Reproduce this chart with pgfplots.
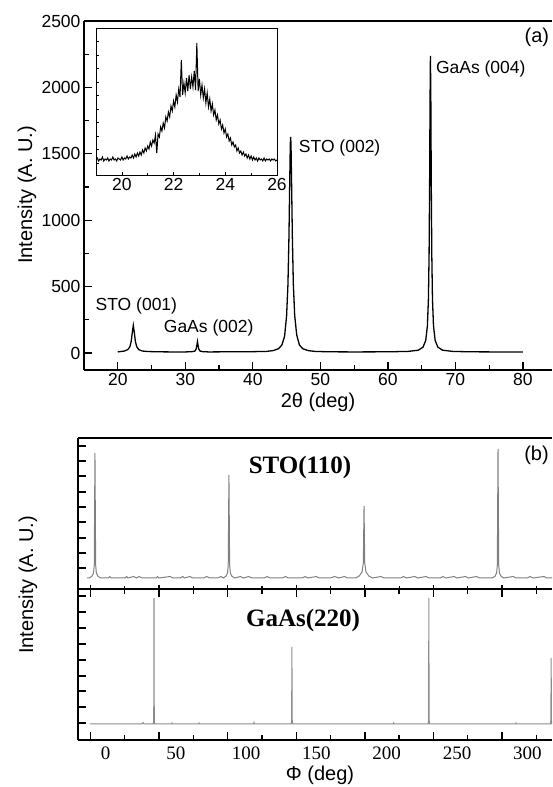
\documentclass[border=0pt]{standalone}
\usepackage{fontspec}
\setmainfont{Liberation Sans}
\newfontfamily\serifb{Liberation Serif}
\usepackage{pgfplots}
\pgfplotsset{compat=1.18}
\begin{document}
\begin{tikzpicture}[x=1pt,y=1pt]
\useasboundingbox (0,0) rectangle (552,787);

% ---------- panel (a): theta-2theta scan ----------
\begin{axis}[
    at={(84pt,417pt)}, anchor=south west,
    scale only axis, width=468pt, height=349pt,
    xmin=15, xmax=84.3, ymin=-128, ymax=2500,
    axis x line*=box, axis y line*=left,
    axis line style={line width=1.6pt},
    tick align=inside, major tick length=8pt, minor tick length=4.5pt,
    tick style={line width=1.2pt, black},
    xtick={20,30,...,80}, minor x tick num=1,
    ytick={0,500,...,2500}, minor y tick num=1,
    xtick pos=left, ytick pos=left,
    tick label style={font=\fontsize{17.5}{18}\selectfont},
    /pgf/number format/assume math mode=true,
    /pgf/number format/1000 sep={},
    xlabel={2θ (deg)},
    label style={font=\fontsize{20}{22}\selectfont},
]
\addplot[black, line width=1.3pt] coordinates {
(20,8)(21,15)(21.5,26)(21.8,48)(22.0,90)(22.15,155)(22.3,208)(22.45,155)(22.6,90)(22.8,48)(23.1,26)(23.6,15)(24.5,11)(26,9)(28,8)
(30,8)(31,10)(31.4,14)(31.6,29)(31.7,54)(31.8,86)(31.9,54)(32.0,29)(32.2,14)(32.6,10)(33.5,8)
(36,9)(40,10)(42,12)(43,18)(43.8,32)(44.3,60)(44.7,125)(45.0,281)(45.2,516)(45.35,880)(45.45,1246)(45.55,1575)(45.6,1628)
(45.65,1575)(45.75,1246)(45.85,880)(46.0,516)(46.2,281)(46.5,135)(46.9,60)(47.4,32)(48.2,18)(49.2,12)(51.2,9)(55,8)
(60,9)(63,12)(64.5,21)(65.2,44)(65.6,94)(65.85,205)(66.0,407)(66.1,741)(66.18,1293)(66.24,1892)(66.3,2238)
(66.36,1892)(66.42,1293)(66.5,741)(66.6,407)(66.75,205)(67.0,94)(67.4,44)(68.1,21)(69.6,12)(72,9)(76,8)(80,7)
};
\node[anchor=west, inner sep=0, font=\fontsize{17.5}{18}\selectfont] at (axis cs:16.7,354) {STO (001)};
\node[anchor=west, inner sep=0, font=\fontsize{17.5}{18}\selectfont] at (axis cs:26.8,188) {GaAs (002)};
\node[anchor=west, inner sep=0, font=\fontsize{17.5}{18}\selectfont] at (axis cs:46.8,1544) {STO (002)};
\node[anchor=west, inner sep=0, font=\fontsize{17.5}{18}\selectfont] at (axis cs:67.1,2139) {GaAs (004)};
\node[anchor=east, inner sep=0, font=\fontsize{20}{22}\selectfont] at (axis cs:83.9,2380) {(a)};
\end{axis}

% ---------- inset ----------
\begin{axis}[
    at={(96pt,612pt)}, anchor=south west,
    scale only axis, width=181pt, height=147pt,
    xmin=19, xmax=26, ymin=0, ymax=147,
    axis background/.style={fill=white},
    axis line style={line width=0.9pt},
    tick align=inside, major tick length=3pt, minor tick length=2pt,
    tick style={line width=0.6pt, black},
    xtick={20,22,24,26}, minor x tick num=1,
    ytick={12,25.5,39,52.5,66,79.5,93,106.5,120,133.5}, yticklabels={},
    xtick pos=left, ytick pos=left,
    tick label style={font=\fontsize{17.5}{18}\selectfont},
    /pgf/number format/assume math mode=true,
]
\addplot[black, line width=1pt] coordinates {
(19.00,15)(19.05,17)(19.10,14)(19.15,16)(19.20,15)(19.25,18)(19.30,14)(19.35,16)(19.40,15)(19.45,17)
(19.50,14)(19.55,16)(19.60,15)(19.65,18)(19.70,15)(19.75,16)(19.80,14)(19.85,17)(19.90,16)(19.95,15)
(20.00,18)(20.05,15)(20.10,17)(20.15,16)(20.20,19)(20.25,16)(20.30,18)(20.35,17)(20.40,20)(20.45,17)
(20.50,21)(20.55,18)(20.60,22)(20.65,19)(20.70,23)(20.75,20)(20.80,25)(20.85,22)(20.90,27)(20.95,24)
(21.00,29)(21.05,26)(21.10,33)(21.15,29)(21.20,35)(21.25,32)(21.30,40)(21.35,22)(21.40,41)(21.45,38)
(21.50,48)(21.55,44)(21.60,52)(21.65,47)(21.70,58)(21.75,54)(21.80,63)(21.85,58)(21.90,69)(21.95,64)
(22.00,74)(22.05,68)(22.10,80)(22.15,73)(22.20,86)(22.25,78)(22.30,115)(22.35,80)(22.40,92)(22.45,82)
(22.50,97)(22.55,84)(22.60,100)(22.65,86)(22.70,98)(22.75,88)(22.80,104)(22.85,85)(22.90,132)(22.95,84)
(23.00,96)(23.05,80)(23.10,90)(23.15,77)(23.20,86)(23.25,72)(23.30,82)(23.35,68)(23.40,76)(23.45,64)
(23.50,71)(23.55,60)(23.60,65)(23.65,55)(23.70,60)(23.75,51)(23.80,55)(23.85,46)(23.90,50)(23.95,42)
(24.00,46)(24.05,38)(24.10,41)(24.15,34)(24.20,37)(24.25,30)(24.30,33)(24.35,28)(24.40,30)(24.45,24)
(24.50,27)(24.55,22)(24.60,24)(24.65,20)(24.70,23)(24.75,19)(24.80,21)(24.85,17)(24.90,20)(24.95,16)
(25.00,19)(25.05,15)(25.10,18)(25.15,15)(25.20,17)(25.25,14)(25.30,17)(25.35,15)(25.40,16)(25.45,14)
(25.50,17)(25.55,14)(25.60,16)(25.65,15)(25.70,16)(25.75,14)(25.80,16)(25.85,15)(25.90,16)(25.95,14)
(26.00,15)
};
\end{axis}

% ---------- panel (b): phi scans ----------
\begin{axis}[
    at={(78pt,198pt)}, anchor=south west,
    scale only axis, width=474pt, height=151pt,
    xmin=-19.56, xmax=317.6, ymin=0, ymax=151,
    axis x line*=box, axis y line*=left,
    axis line style={line width=1.6pt},
    tick align=inside, major tick length=8pt, minor tick length=5pt,
    tick style={line width=1.2pt, black},
    major x tick style={yshift=-4pt}, minor x tick style={yshift=-2.5pt},
    xtick={-10.7,38.1,86.9,135.7,184.5,233.3,282.1},
    minor xtick={13.7,62.5,111.3,160.1,208.9,257.7,306.5},
    xticklabels={},
    ytick={21,36,51,67,82,97,113,128,143}, yticklabels={},
    xtick pos=left, ytick pos=left,
]
\addplot[black!50, line width=1pt] coordinates {
(-13,11)(-11.5,11)(-9.5,13)(-8.5,16)(-8,24)(-7.5,136)(-7,24)(-6.5,16)(-5.5,13)(-3.5,11)
(2,11)(3,12.5)(4,11)(14,11)(15,12.5)(16,11)(20,12.5)(22,11)(24,12.5)(26,11)(36,11)(37,12.5)(38,11)
(46,12.5)(48,11)(53,11)(55,12.5)(56,11)(60,12.5)(62,11)(70,11)(72,12.5)(74,11)(80,11)(82,12.5)
(83.8,11)(85.8,13)(86.8,16)(87.3,24)(87.8,114)(88.3,24)(88.8,16)(89.8,13)(91.8,11)
(96,12.5)(98,11)(102,12.5)(104,11)(113,11)(115,12.5)(117,11)(126,11)(128,12.5)(130,11)(140,11)(142,12.5)
(144,11)(150,12.5)(152,11)(160,11)(163,12.5)(166,11)(170,12.5)(172,11)(175,11)
(178,11)(180.5,13)(182.5,17)(183.4,26)(183.9,83)(184.4,26)(185.3,17)(187.3,13)(189.9,11)
(196,12.5)(198,11)(210,11)(212,12.5)(214,11)(220,12.5)(222,11)(228,12.5)(230,11)(238,11)(240,12.5)(242,11)
(248,12.5)(250,11)(256,12.5)(258,11)(264,12.5)(266,11)(272,11)
(275.2,11)(277.2,13)(278.2,16)(278.7,24)(279.2,140)(279.7,24)(280.2,16)(281.2,13)(283.2,11)
(290,12.5)(292,11)(300,11)(302,12.5)(304,11)(312,12.5)(314,11)(317.6,11)
};
\node[font=\serifb\bfseries\fontsize{25}{26}\selectfont] at (axis cs:138.3,122) {STO(110)};
\node[anchor=east, inner sep=0, font=\fontsize{20}{22}\selectfont] at (axis cs:315.4,134) {(b)};
\end{axis}

\begin{axis}[
    at={(78pt,47pt)}, anchor=south west,
    scale only axis, width=474pt, height=151pt,
    xmin=-19.56, xmax=317.6, ymin=0, ymax=151,
    axis x line*=box, axis y line*=left,
    axis line style={line width=1.6pt},
    tick align=inside, major tick length=8pt, minor tick length=5pt,
    tick style={line width=1.4pt, black},
    xtick={-10.7,38.1,86.9,135.7,184.5,233.3,282.1},
    minor xtick={13.7,62.5,111.3,160.1,208.9,257.7,306.5},
    xticklabels={},
    ytick={17,33,49,64,80,96,112,128,144}, yticklabels={},
    xtick pos=both, ytick pos=left,
]
\addplot[black!45, line width=1pt] coordinates {
(-11,16)(26,16)(26.7,17.5)(27.4,16)(34,16)(34.3,20)(34.5,142)(34.7,20)(35,16)(47,16)(47.3,17)(47.6,16)
(66.2,16)(66.5,17)(66.8,16)(105.3,16)(105.6,17.5)(105.9,16)(132.1,16)(132.4,20)(132.6,93)(132.8,20)(133.1,16)
(204.7,16)(205,17)(205.3,16)(229.5,16)(229.8,20)(230,142)(230.2,20)(230.5,16)(291.7,16)(292,17)(292.3,16)
(316.5,16)(316.8,20)(317,82)(317.2,20)(317.5,16)(317.6,16)
};
\node[font=\serifb\bfseries\fontsize{25}{26}\selectfont] at (axis cs:140.5,120) {GaAs(220)};
\end{axis}

% tick labels of the phi axis (they do not sit on the tick marks in the original)
\foreach \v/\p in {0/105.5,50/175.8,100/246.1,150/316.4,200/386.7,250/457.0,300/527.3}{
  \node[anchor=north, inner sep=0, font=\serifb\fontsize{19}{20}\selectfont] at (\p,40) {\v};
}
\node[font=\fontsize{20}{22}\selectfont] at (320,12) {Φ (deg)};
\node[rotate=90, font=\fontsize{20}{22}\selectfont] at (27,592) {Intensity (A. U.)};
\node[rotate=90, font=\fontsize{20}{22}\selectfont] at (28,202) {Intensity (A. U.)};
\end{tikzpicture}
\end{document}
